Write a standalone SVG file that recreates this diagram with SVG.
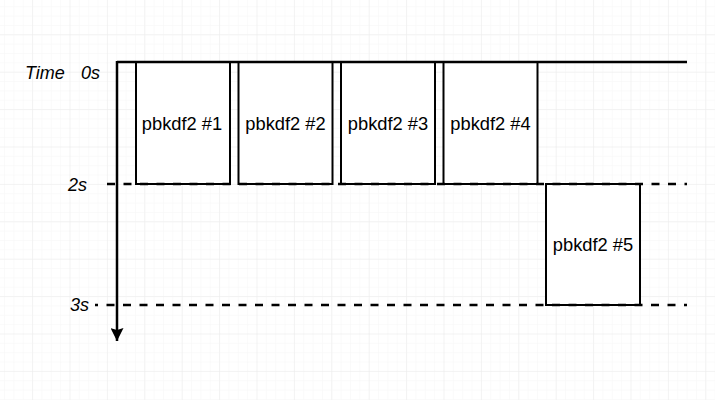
<svg xmlns="http://www.w3.org/2000/svg" width="715" height="400" viewBox="0 0 715 400">
<defs>
<pattern id="minor" x="32.1" y="34.3" width="9.35" height="9.35" patternUnits="userSpaceOnUse">
<path d="M0 0H9.35M0 0V9.35" fill="none" stroke="#f6f6f6" stroke-width="1"/>
</pattern>
<pattern id="major" x="32.1" y="34.3" width="37.4" height="37.4" patternUnits="userSpaceOnUse">
<path d="M0 0H37.4M0 0V37.4" fill="none" stroke="#ececec" stroke-width="1"/>
</pattern>
<marker id="arrow" viewBox="0 0 13 13" refX="13" refY="6.5" markerWidth="13" markerHeight="13" markerUnits="userSpaceOnUse" orient="auto">
<path d="M0 0L13 6.5L0 13L2 6.5Z" fill="#000"/>
</marker>
</defs>
<style>
.box{fill:#fff;stroke:#000;stroke-width:2}
.lbl{font-family:"Liberation Sans",Arial,sans-serif;font-size:18.3px;fill:#000;text-anchor:middle}
.axis{font-family:"Liberation Sans",Arial,sans-serif;font-size:18px;font-style:italic;fill:#000}
.dash{fill:none;stroke:#000;stroke-width:2.3;stroke-dasharray:8 8.5}
.solid{fill:none;stroke:#000;stroke-width:2.5}
</style>
<rect width="715" height="400" fill="#fff"/>
<rect width="715" height="400" fill="url(#minor)"/>
<rect width="715" height="400" fill="url(#major)"/>

<g id="labels">
<text class="axis" x="25" y="79">Time</text>
<text class="axis" x="81" y="79">0s</text>
<text class="axis" x="68" y="191">2s</text>
<text class="axis" x="70" y="311">3s</text>
</g>

<g id="p1"><rect class="box" x="136" y="62" width="94" height="122"/><text class="lbl" x="182" y="130">pbkdf2 #1</text></g>
<g id="p2"><rect class="box" x="238.5" y="62" width="94" height="122"/><text class="lbl" x="285.5" y="130">pbkdf2 #2</text></g>
<g id="p3"><rect class="box" x="341" y="62" width="94" height="122"/><text class="lbl" x="388" y="130">pbkdf2 #3</text></g>
<g id="p4"><rect class="box" x="443.5" y="62" width="94" height="122"/><text class="lbl" x="490.5" y="130">pbkdf2 #4</text></g>
<g id="p5"><rect class="box" x="546" y="184" width="94" height="121"/><text class="lbl" x="593" y="251">pbkdf2 #5</text></g>

<g id="connectors">
<line class="solid" x1="117" y1="62" x2="687" y2="62"/>
<line class="solid" x1="117" y1="61" x2="117" y2="341" marker-end="url(#arrow)"/>
<line class="dash" x1="107" y1="184" x2="687" y2="184"/>
<line class="dash" x1="95" y1="305" x2="687" y2="305" stroke-dashoffset="5"/>
</g>
</svg>
